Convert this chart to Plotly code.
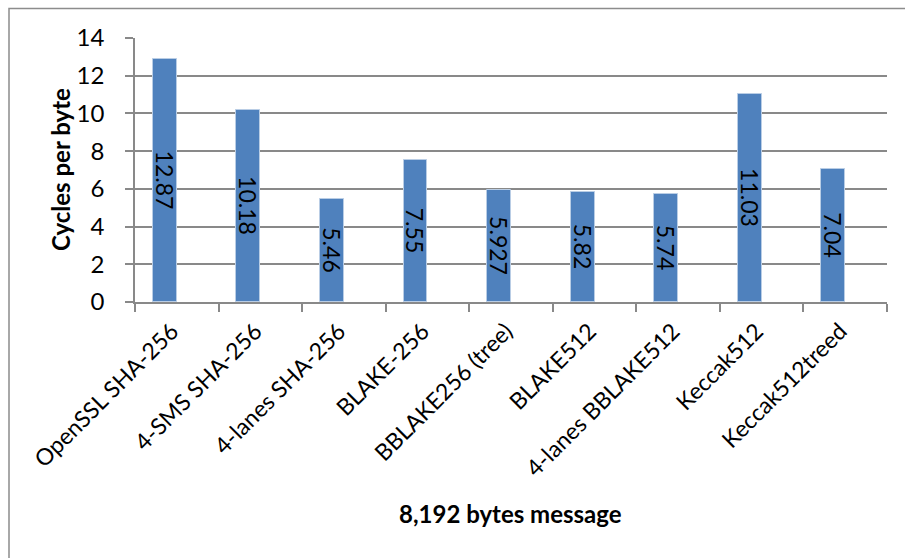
import plotly.graph_objects as go

# Throughput of hash implementations on an 8,192-byte message
categories = [
    "OpenSSL SHA-256",
    "4-SMS SHA-256",
    "4-lanes SHA-256",
    "BLAKE-256",
    "BBLAKE256 (tree)",
    "BLAKE512",
    "4-lanes BBLAKE512",
    "Keccak512",
    "Keccak512treed",
]
cycles_per_byte = [12.87, 10.18, 5.46, 7.55, 5.927, 5.82, 5.74, 11.03, 7.04]
value_labels = ["12.87", "10.18", "5.46", "7.55", "5.927", "5.82", "5.74", "11.03", "7.04"]
y_ticks = [0, 2, 4, 6, 8, 10, 12, 14]

FONT = "Lato"
GRID = "#898989"

W, H = 905, 558
L, R, T, B = 135, 18, 38, 256
plot_w = W - L - R
plot_h = H - T - B

fig = go.Figure()
fig.add_trace(
    go.Bar(
        x=categories,
        y=cycles_per_byte,
        text=value_labels,
        textposition="inside",
        insidetextanchor="middle",
        textangle=90,
        constraintext="none",
        textfont=dict(family=FONT, size=23, color="black"),
        marker=dict(color="#4F81BD", line=dict(color="#B9CDE5", width=1)),
        width=0.2857,
        offset=-0.2857,
        hoverinfo="skip",
    )
)


def px_to_paper_x(px):
    return (px - L) / plot_w


def px_to_paper_y(py):
    return (H - B - py) / plot_h


fig.update_layout(
    width=W,
    height=H,
    autosize=False,
    margin=dict(l=L, r=R, t=T, b=B),
    paper_bgcolor="white",
    plot_bgcolor="white",
    showlegend=False,
    bargap=0,
    uniformtext=dict(mode="show", minsize=23),
    font=dict(family=FONT, color="black"),
    xaxis=dict(
        type="category",
        tickangle=-45,
        tickfont=dict(family=FONT, size=23, color="black"),
        tickson="boundaries",
        ticks="outside",
        ticklen=8,
        tickwidth=1.5,
        tickcolor=GRID,
        ticklabelshift=-5,
        ticklabelstandoff=5,
        showline=True,
        linecolor=GRID,
        linewidth=1.5,
        showgrid=False,
        range=[-0.5, len(categories) - 0.5],
        fixedrange=True,
    ),
    yaxis=dict(
        range=[0, 14],
        tickvals=y_ticks,
        tickfont=dict(family=FONT, size=24, color="black"),
        ticks="outside",
        ticklen=8,
        tickwidth=1.5,
        tickcolor=GRID,
        ticklabelstandoff=16,
        showline=True,
        linecolor=GRID,
        linewidth=1.5,
        showgrid=True,
        gridcolor=GRID,
        gridwidth=1.6,
        zeroline=False,
        fixedrange=True,
    ),
    annotations=[
        dict(
            text="<b>Cycles per byte</b>",
            xref="paper",
            yref="paper",
            x=px_to_paper_x(60),
            y=0.5,
            textangle=-90,
            showarrow=False,
            xanchor="center",
            yanchor="middle",
            font=dict(family=FONT, size=24, color="black"),
        ),
        dict(
            text="<b>8,192 bytes message</b>",
            xref="paper",
            yref="paper",
            x=px_to_paper_x(510),
            y=px_to_paper_y(513),
            showarrow=False,
            xanchor="center",
            yanchor="middle",
            font=dict(family=FONT, size=24, color="black"),
        ),
    ],
    shapes=[
        # chart frame; its right and bottom edges run past the page
        dict(
            type="rect",
            xref="paper",
            yref="paper",
            x0=px_to_paper_x(9),
            x1=px_to_paper_x(W + 20),
            y0=px_to_paper_y(H + 20),
            y1=px_to_paper_y(8.5),
            line=dict(color="#8c8c8c", width=1.5),
            fillcolor="rgba(0,0,0,0)",
            layer="below",
        )
    ],
)

fig.write_html("out.html", config={"displayModeBar": False})
